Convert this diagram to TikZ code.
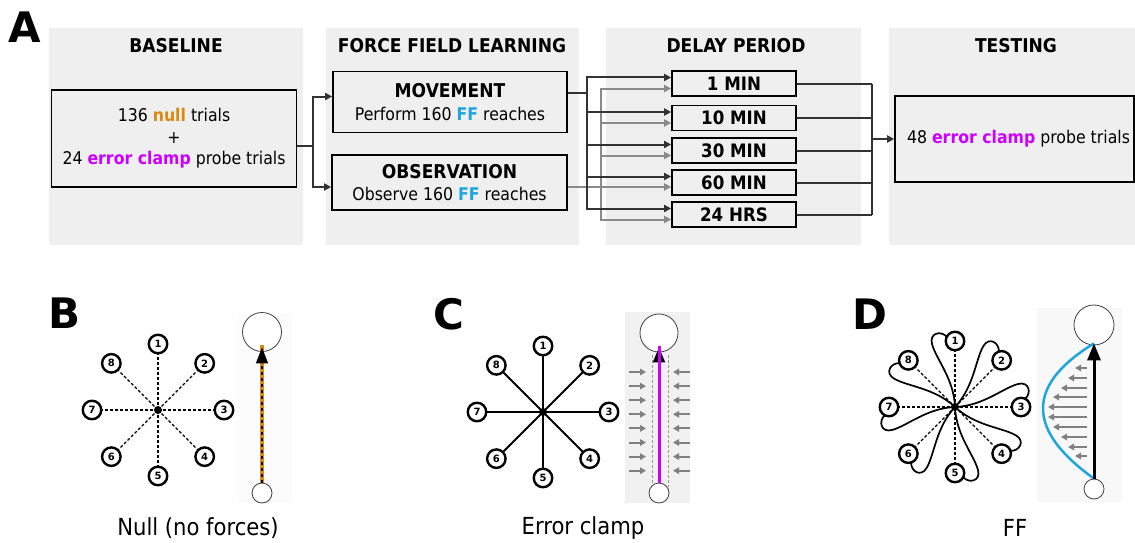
\documentclass[tikz,border=0pt]{standalone}
\usepackage{fontspec}
\setmainfont{DejaVu Sans Condensed}
\newfontfamily\letterfont{DejaVu Sans}
\usetikzlibrary{arrows.meta,calc}
\definecolor{panelgray}{HTML}{EFEFEF}
\definecolor{nullor}{HTML}{D98A0F}
\definecolor{clampmag}{HTML}{CC00FF}
\definecolor{ffblue}{HTML}{1EA5E0}
\definecolor{conncol}{HTML}{333333}
\definecolor{connlight}{HTML}{8A8A8A}
\definecolor{fgray}{HTML}{808080}
\definecolor{bgB}{HTML}{FCFCFC}
\definecolor{bgC}{HTML}{F1F1F1}
\definecolor{bgD}{HTML}{F8F8F8}
\tikzset{
  panel/.style={fill=panelgray},
  hdr/.style={font=\bfseries\fontsize{19}{19}\selectfont, inner sep=0pt},
  box/.style={draw=black, line width=1.6pt, fill=panelgray, inner sep=0pt, align=center},
  dbox/.style={box, minimum width=124pt, minimum height=25pt, font=\bfseries\fontsize{18.5}{18.5}\selectfont},
  conn/.style={draw=conncol, line width=2pt},
  connarrow/.style={conn, -{Triangle[length=7pt,width=7pt]}},
  gconn/.style={draw=connlight, line width=2pt},
  garrow/.style={gconn, -{Triangle[length=7pt,width=7pt]}},
  letter/.style={font=\letterfont\bfseries\fontsize{42}{42}\selectfont, inner sep=0pt},
  lbl/.style={font=\fontsize{23.5}{23.5}\selectfont, inner sep=0pt},
  tgt/.style={circle, draw=black, fill=white, line width=2.4pt, inner sep=0pt, minimum size=18.5pt, font=\letterfont\bfseries\fontsize{10}{10}\selectfont},
  cdot/.style={circle, fill=black, inner sep=0pt, minimum size=8pt},
  dashray/.style={line width=1.3pt, dash pattern=on 3pt off 2pt},
  solidray/.style={line width=2pt},
  ring/.style={circle, draw=black!75, line width=0.8pt, fill=white, inner sep=0pt},
  farrow/.style={draw=fgray, line width=2pt, -{Triangle[length=6pt,width=6.5pt]}},
  fcurve/.style={line width=1.7pt},
}
\begin{document}
\begin{tikzpicture}[x=1pt,y=-1pt]
\useasboundingbox (0,0) rectangle (1135,543);
% ---------- panel A ----------
\fill[panel] (49,28) rectangle (303,245);
\fill[panel] (326,28) rectangle (579,245);
\fill[panel] (606,28) rectangle (861,245);
\fill[panel] (889,28) rectangle (1135,245);
\node[letter] (lA) at (24.5,27) {A};
\node[hdr] (hB) at (176,46) {BASELINE};
\node[hdr] (hF) at (452,46) {FORCE FIELD LEARNING};
\node[hdr] (hD) at (736,46) {DELAY PERIOD};
\node[hdr] (hT) at (1016,46) {TESTING};

\node[box, minimum width=245pt, minimum height=97pt, font=\fontsize{17.5}{21.5}\selectfont] (base) at (174,138.5)
  {136 \textcolor{nullor}{\bfseries null} trials\\+\\24 \textcolor{clampmag}{\bfseries error clamp} probe trials};
\node[box, minimum width=234pt, minimum height=61pt, font=\fontsize{17.5}{23}\selectfont] (mov) at (450,102)
  {{\bfseries\fontsize{19}{23}\selectfont MOVEMENT}\\Perform 160 \textcolor{ffblue}{\bfseries FF} reaches};
\node[box, minimum width=235pt, minimum height=55pt, font=\fontsize{17.5}{22}\selectfont] (obs) at (449.5,182.5)
  {{\bfseries\fontsize{19}{22}\selectfont OBSERVATION}\\Observe 160 \textcolor{ffblue}{\bfseries FF} reaches};
\node[dbox] (d1) at (734,83.5) {1 MIN};
\node[dbox] (d10) at (734,118) {10 MIN};
\node[dbox] (d30) at (734,150.5) {30 MIN};
\node[dbox] (d60) at (734,182.5) {60 MIN};
\node[dbox] (d24) at (734,214.5) {24 HRS};
\node[box, minimum width=239pt, minimum height=86pt, font=\fontsize{17.5}{22}\selectfont] (test) at (1014.5,139)
  {\hspace*{8pt}48 \textcolor{clampmag}{\bfseries error clamp} probe trials};

% baseline -> learning
\coordinate (j1) at (313,146);
\draw[conn] ([yshift=-7.5pt]base.east) -- (j1);
\draw[connarrow] (j1) |- ([yshift=5.5pt]mov.west);
\draw[connarrow] (j1) |- ([yshift=-4.5pt]obs.west);
% observation -> delays (gray)
\coordinate (j3) at (601,187);
\draw[garrow] ([yshift=-4.5pt]obs.east) -- ([yshift=-4.5pt]d60.west);
\foreach \d in {d1,d10,d30,d24}{
  \draw[garrow] (j3) |- ([yshift=-5pt]\d.west);
}
% movement -> delays (black)
\coordinate (j2) at (587,93);
\draw[conn] ([yshift=9pt]mov.east) -- (j2);
\foreach \d in {d1,d10,d30,d60,d24}{
  \draw[connarrow] (j2) |- ([yshift=6pt]\d.west);
}
% delays -> testing
\coordinate (j4) at (872,139);
\foreach \d in {d1,d10,d30,d60,d24}{
  \draw[conn] (\d.east) -- (\d.east -| j4);
}
\draw[conn] (d1.east -| j4) -- (d24.east -| j4);
\draw[connarrow] (j4) -- (test.west);

% ---------- panel B ----------
\node[letter] (lB) at (65,313.5) {B};
\foreach \k/\a in {1/90,2/45,3/0,4/-45,5/-90,6/-135,7/180,8/135}{
  \node[tgt] (b\k) at ({158+66*cos(\a)},{410-66*sin(\a)}) {\k};
}
\node[cdot] (bc) at (158,410) {};
\foreach \k in {1,...,8}{ \draw[dashray] (bc.center) -- (b\k); }
\fill[bgB] (238,313) rectangle (292,503);
\node[ring, minimum size=39pt] (bTop) at (262,332) {};
\node[ring, minimum size=20pt] (bBot) at (262,493) {};
\draw[nullor, line width=3.5pt] (bBot.north) -- ([yshift=7pt]bTop.south);
\draw[black, line width=1.3pt, dash pattern=on 3pt off 3pt, -{Triangle[length=16pt,width=12pt]}] (bBot.north) -- ([yshift=4.5pt]bTop.south);
\node[lbl] (lblB) at (198,528) {Null (no forces)};

% ---------- panel C ----------
\node[letter] (lC) at (448.5,314.5) {C};
\foreach \k/\a in {1/90,2/45,3/0,4/-45,5/-90,6/-135,7/180,8/135}{
  \node[tgt] (c\k) at ({543+66*cos(\a)},{412-66*sin(\a)}) {\k};
}
\node[cdot] (cc) at (543,412) {};
\foreach \k in {1,...,8}{ \draw[solidray] (cc.center) -- (c\k); }
\fill[bgC] (625,312) rectangle (690,503);
\draw[fgray!80, line width=0.8pt, dash pattern=on 3pt off 2pt] (652,355) -- (652,487);
\draw[fgray!80, line width=0.8pt, dash pattern=on 3pt off 2pt] (668,355) -- (668,487);
\foreach \i in {0,...,7}{
  \draw[farrow] (629,{372+14.1*\i}) -- (646,{372+14.1*\i});
  \draw[farrow] (690,{372+14.1*\i}) -- (673,{372+14.1*\i});
}
\node[ring, minimum size=38pt] (cTop) at (659,333) {};
\node[ring, minimum size=20pt] (cBot) at (659,493) {};
\draw[black, line width=2pt, -{Triangle[length=15pt,width=12pt]}] (cBot.north) -- ([yshift=5pt]cTop.south);
\draw[clampmag, line width=3pt] (cBot.north) -- ([yshift=6pt]cTop.south);
\node[lbl] (lblC) at (583,528) {Error clamp};

% ---------- panel D ----------
\node[letter] (lD) at (870,314.5) {D};
\foreach \a in {90,45,0,-45,-90,-135,180,135}{
  \begin{scope}[shift={(955,407)}, rotate=\a]
    \draw[fcurve] (0,0) .. controls (28,-1) and (48,-19) .. (63,-23) .. controls (74,-26) and (77,-14) .. (70,-8);
  \end{scope}
}
\foreach \k/\a in {1/90,2/45,3/0,4/-45,5/-90,6/-135,7/180,8/135}{
  \node[tgt] (e\k) at ({955+66*cos(\a)},{407-66*sin(\a)}) {\k};
}
\node[cdot] (ec) at (955,407) {};
\foreach \k in {1,...,8}{ \draw[dashray] (ec.center) -- (e\k); }
\fill[bgD] (1037,308) rectangle (1122,502);
\foreach \yy/\xx in {368/1075,378/1068,388/1061,397/1053,407/1048,417/1048,427/1053,437/1061,447/1068,456/1075}{
  \draw[farrow] (1087,\yy) -- (\xx,\yy);
}
\node[ring, minimum size=40pt] (dTop) at (1094,325) {};
\node[ring, minimum size=20pt] (dBot) at (1094,489) {};
\draw[ffblue, line width=2.5pt] (dBot.north) .. controls (1026,430) and (1026,385) .. ([yshift=2pt]dTop.south);
\draw[black, line width=3pt, -{Triangle[length=17pt,width=13pt]}] (dBot.north) -- ([yshift=2pt]dTop.south);
\node[lbl] (lblD) at (1015,528) {FF};
\end{tikzpicture}
\end{document}
